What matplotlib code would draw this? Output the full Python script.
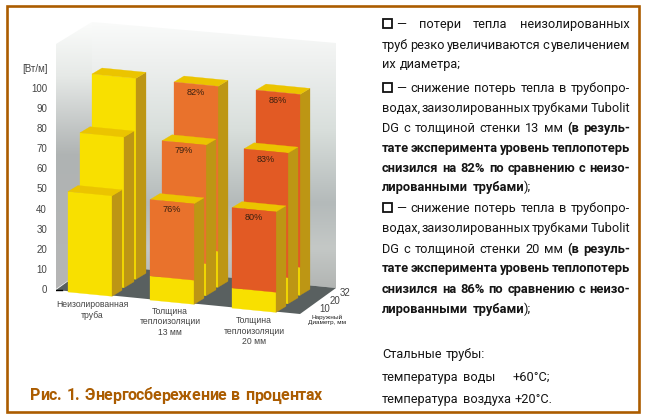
import numpy as np
import matplotlib
matplotlib.use("Agg")
import matplotlib.pyplot as plt
from matplotlib.patches import Polygon, Rectangle
from matplotlib.colors import LinearSegmentedColormap

# ---------- data ----------
groups = ["Неизолированная\nтруба", "Толщина\nтеплоизоляции\n13 мм", "Толщина\nтеплоизоляции\n20 мм"]
diameters = ["10", "20", "32"]
loss_total = [50, 75, 100]
base_none = [50, 75, 100]
base_13 = [12, 16, 18]
base_20 = [10, 13, 14]
pct_13 = ["76%", "79%", "82%"]
pct_20 = ["80%", "83%", "86%"]
y_ticks = [0, 10, 20, 30, 40, 50, 60, 70, 80, 90, 100]

W, H = 647, 420
NARROW = "Roboto"
SANS = "Liberation Sans"
BROWN = "#AB5C00"
GREY = "#444444"

fig = plt.figure(figsize=(W / 100, H / 100), dpi=100, facecolor="white")
bg = fig.add_axes([0, 0, 1, 1], zorder=0)
bg.set_xlim(0, W); bg.set_ylim(H, 0); bg.axis("off")

# chart axes: x in horizontal units, y in W/m
LEFT = 56
def v(py):
    return (289 - py) / 2.01
ax = fig.add_axes([LEFT / W, 0, (W - LEFT) / W, 1], zorder=1)
ax.patch.set_alpha(0)
ax.set_xlim(LEFT, W)
ax.set_ylim(v(H), v(0))
for s in ax.spines.values():
    s.set_visible(False)
ax.set_xticks([])
ax.set_yticks(y_ticks)
ax.tick_params(axis="y", length=0, pad=6.5, labelsize=7, labelcolor=GREY)
for t in ax.get_yticklabels():
    t.set_fontfamily(SANS)

# ---------- walls ----------
def gradient(poly, stops, top, bottom, z=1):
    cm = LinearSegmentedColormap.from_list("g", stops)
    grad = np.linspace(0, 1, 256).reshape(-1, 1)
    xs = [p[0] for p in poly]
    im = ax.imshow(grad, cmap=cm, aspect="auto", vmin=0, vmax=1,
                   extent=(min(xs), max(xs), v(bottom), v(top)), zorder=z, interpolation="bilinear")
    patch = Polygon([(x, v(y)) for x, y in poly], closed=True, transform=ax.transData,
                    fc="none", ec="none")
    ax.add_patch(patch)
    im.set_clip_path(patch)

gradient([(56, 44), (92, 22), (92, 264), (56, 289)],
         [(0, "#FBFCFB"), (0.2, "#E6E9E7"), (0.5, "#AFB3B3"), (1, "#B6B6B6")], 22, 289)
gradient([(92, 22), (336, 43), (336, 288), (92, 264)],
         [(0, "#FAFBFA"), (0.15, "#EEF0EF"), (0.4, "#D9DFDC"), (0.68, "#B4BABA"),
          (0.85, "#C4C8C6"), (1, "#B2B5B3")], 22, 288)
ax.add_patch(Polygon([(x, v(y)) for x, y in [(56, 290), (92, 264), (336, 288), (300, 314)]],
                     closed=True, fc="#596060", ec="none", zorder=2))
ax.plot([56, 62], [v(290), v(290)], color="black", lw=1, zorder=3)

# ---------- bars ----------
GX = [68, 150, 232]
BW, SX, SY = 44, 10, 6
DX, DY = 12, 8.5
SHEAR = 0.098
YELLOW, TOP, SIDE = "#F8E000", "#EBC400", "#BD9614"
ORANGES = [None, "#E9722C", "#E25A24"]

def base_v(g, r, xoff):
    py0 = 292 + SHEAR * (GX[g] + xoff - 68) - DY * r
    return v(py0)

def bar(g, r, total, base, colour, z):
    def P(xoff, value, depth=0.0):
        return (GX[g] + DX * r + xoff + SX * depth,
                base_v(g, r, xoff) + value + SY * depth / 2.01)
    polys = [
        ([P(0, 0), P(BW, 0), P(BW, base), P(0, base)], YELLOW),
        ([P(BW, 0), P(BW, 0, 1), P(BW, total, 1), P(BW, total)], SIDE),
        ([P(0, total), P(BW, total), P(BW, total, 1), P(0, total, 1)], TOP),
    ]
    if total > base:
        polys.append(([P(0, base), P(BW, base), P(BW, total), P(0, total)], colour))
    for pts, c in polys:
        ax.add_patch(Polygon(pts, closed=True, fc=c, ec=c, lw=0.2, zorder=z))

series = [(base_none, None), (base_13, pct_13), (base_20, pct_20)]
for r in (2, 1, 0):
    z = 5 + (2 - r)
    for g, (bases, pcts) in enumerate(series):
        bar(g, r, loss_total[r], bases[r], ORANGES[g], z)
        if pcts:
            cx = GX[g] + DX * r + BW / 2
            top = base_v(g, r, BW / 2) + loss_total[r]
            ax.text(cx, top - 4, pcts[r], ha="center", va="center", fontsize=6.6,
                    family=SANS, color="#3a2010", zorder=z + 0.5)

# ---------- chart labels ----------
label_pos = [(92, 310), (170, 322), (254, 331)]
ax.text(48, v(69), "[Вт/м]", ha="right", va="center", fontsize=7, family=SANS, color=GREY, clip_on=False)
for (x, y), s in zip(label_pos, groups):
    ax.text(x, v(y), s, ha="center", va="center", fontsize=6.2, family=SANS, color=GREY, linespacing=1.15)
for s, (x, y) in zip(diameters, [(325, 309), (335, 301), (345, 293)]):
    ax.text(x, v(y), s, ha="center", va="center", fontsize=7, family=SANS, color=GREY)
ax.text(327, v(320), "Наружный\nДиаметр, мм", ha="center", va="center", fontsize=4.6,
        family=SANS, color="#222222", linespacing=1.0)

# ---------- frame + caption ----------
bg.add_patch(Rectangle((7, 5.5), 632, 406.5, fc="none", ec=BROWN, lw=1.9))
fig.canvas.draw()
rend = fig.canvas.get_renderer()

def tw(s, **kw):
    t = bg.text(0, 0, s, **kw)
    w = t.get_window_extent(rend).width
    t.remove()
    return w

cap = "Рис. 1. Энергосбережение в процентах"
CAP_KW = dict(fontsize=11.5, family=NARROW, fontweight="bold", color=BROWN)
space = tw("н", **CAP_KW) * 0.6
natural = sum(space if c == " " else tw(c, **CAP_KW) for c in cap)
gap = (322 - 30 - natural) / (len(cap) - 1)
x = 30.0
for c in cap:
    if c == " ":
        x += space + gap
        continue
    bg.text(x, 396, c, ha="left", va="center", **CAP_KW)
    x += tw(c, **CAP_KW) + gap

# ---------- right-hand text ----------
L, R = 382, 630
FS, FSB = 9.2, 9.3
def line(y, segs, justify=True, left=L):
    """segs: list of (word, bold)"""
    kws = [dict(fontsize=FSB if b else FS, family=NARROW, color="#151515",
                fontweight="bold" if b else "normal") for _, b in segs]
    ws = [tw(w, **k) for (w, _), k in zip(segs, kws)]
    glued = [w.startswith(")") for w, _ in segs]
    sp = tw("н", fontsize=FS, family=NARROW) * 0.6
    if justify and len(segs) > 1:
        sp = (R - left - sum(ws)) / (len(segs) - 1)
    x = left
    for (word, _), k, w, g in zip(segs, kws, ws, glued):
        if g:
            x -= sp
        bg.text(x, y, word, ha="left", va="center_baseline", **k)
        x += w + sp

def plain(s, b=False):
    return [(w, b) for w in s.split()]

def box(y):
    bg.add_patch(Rectangle((382.5, y - 4.5), 9.5, 9.5, fc="white", ec="#111111", lw=1.3))

box(23); line(23, plain("— потери тепла неизолированных"), left=396)
line(44, plain("труб резко увеличиваются с увеличением"))
line(63, plain("их диаметра;"), justify=False)
box(87); line(87, plain("— снижение потерь тепла в трубопро-"), left=396)
line(107, plain("водах, заизолированных трубками Tubolit"))
line(127, plain("DG с толщиной стенки 13 мм") + plain("(в резуль-", True))
line(147, plain("тате эксперимента уровень теплопотерь", True))
line(167, plain("снизился на 82% по сравнению с неизо-", True))
line(186, plain("лированными трубами", True) + [(");", False)], justify=False)
box(207); line(207, plain("— снижение потерь тепла в трубопро-"), left=396)
line(227, plain("водах, заизолированных трубками Tubolit"))
line(248, plain("DG с толщиной стенки 20 мм") + plain("(в резуль-", True))
line(267, plain("тате эксперимента уровень теплопотерь", True))
line(288, plain("снизился на 86% по сравнению с неизо-", True))
line(308, plain("лированными трубами", True) + [(");", False)], justify=False)
line(353, plain("Стальные трубы:"), justify=False)
line(376, plain("температура воды"), justify=False)
bg.text(513, 376, "+60°C;", ha="left", va="center_baseline", fontsize=FS, family=NARROW, color="#151515")
line(398, plain("температура воздуха"), justify=False)
bg.text(515, 398, "+20°C.", ha="left", va="center_baseline", fontsize=FS, family=NARROW, color="#151515")

ax.set_xlim(LEFT, W)
ax.set_ylim(v(H), v(0))
fig.savefig("out.png", dpi=100)
